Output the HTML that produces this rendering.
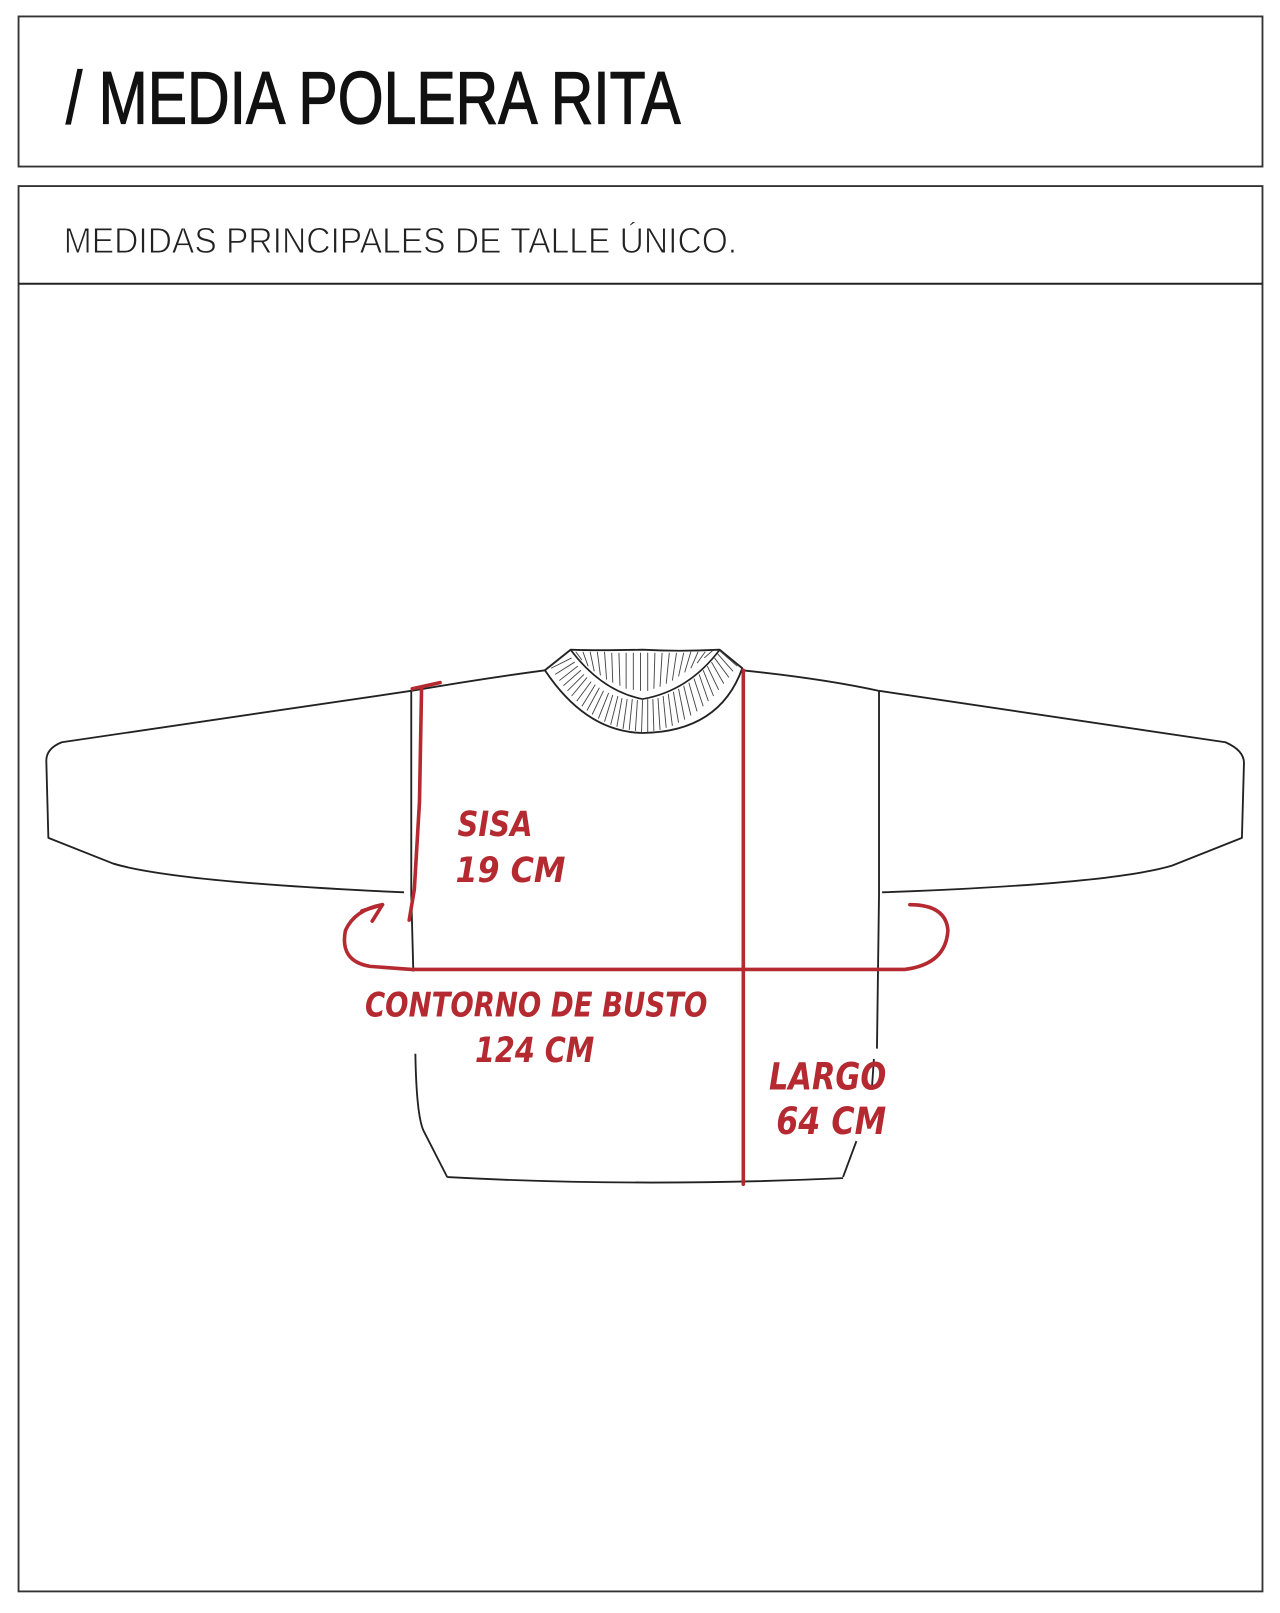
<!DOCTYPE html>
<html><head><meta charset="utf-8"><style>
html,body{margin:0;padding:0;background:#fff;}
svg{display:block}
</style></head><body>
<svg width="1280" height="1613" viewBox="0 0 1245 1569" xmlns="http://www.w3.org/2000/svg">
<rect x="0" y="0" width="1245" height="1569" fill="#fff"/>
<rect x="18" y="16" width="1210" height="146" fill="none" stroke="#333" stroke-width="1.8"/>
<rect x="18" y="181" width="1210" height="1367" fill="none" stroke="#333" stroke-width="1.8"/>
<line x1="18" y1="276" x2="1228" y2="276" stroke="#222" stroke-width="2"/>
<text x="64" y="120" font-family="Liberation Sans, sans-serif" font-size="72" fill="#111" stroke="#111" stroke-width="1.2" textLength="598" lengthAdjust="spacingAndGlyphs">/ MEDIA POLERA RITA</text>
<text x="62" y="246" font-family="Liberation Sans, sans-serif" font-size="35" fill="#222" textLength="655" lengthAdjust="spacingAndGlyphs" stroke="#fff" stroke-width="0.9">MEDIDAS  PRINCIPALES  DE  TALLE  ÚNICO.</text>

<g fill="none" stroke="#222" stroke-width="1.8" stroke-linejoin="round">
<path d="M400 672 L60 722 Q45 728 45 740 L47 815 L110 840 Q170 858 393 868"/>
<path d="M855 672 L1192 722 Q1210 730 1210 742 L1208 815 L1140 842 Q1080 860 858 868"/>
<path d="M400 672 Q470 660 530 652"/>
<path d="M722 652 Q800 660 855 672"/>
<path d="M400 672 L400 870 L402 945"/>
<path d="M404 1025 Q405 1085 412 1100 L435 1145"/>
<path d="M855 672 L855 870 L853 1020"/>
<path d="M850 1030 L848 1060"/>
<path d="M833 1110 L820 1145"/>
<path d="M435 1145 Q620 1155 820 1146"/>
<path d="M530 652 Q570 712 625 713 Q700 712 722 650 L700 632 Q660 634 625 632 Q580 633 555 632 Z" fill="#fff"/>
</g>
<g stroke="#444" stroke-width="0.9" fill="none">
<path d="M536 650 L556 640 M540 656 L559 644 M544 662 L562 648 M548 667 L565 652 M552 672 L568 656 M556 677 L571 659 M561 682 L575 663 M566 687 L579 666 M571 691 L583 669 M576 695 L587 672 M582 699 L592 674 M588 702 L596 676 M594 705 L601 677 M600 707 L605 679 M606 709 L610 680 M612 710 L615 680 M618 711 L620 681 M624 712 L625 681 M630 712 L630 680 M636 711 L635 680 M642 710 L640 679 M648 708 L645 677 M654 706 L650 675 M660 703 L655 673 M666 700 L660 670 M672 696 L665 667 M678 692 L670 664 M684 687 L675 660 M689 682 L680 656 M694 677 L684 652 M699 671 L688 648 M704 665 L692 644 M709 659 L695 640 M713 653 L698 636 M717 648 L700 633"/>
<path d="M560 634 L566 642 M567 634 L572 648 M574 634 L578 653 M581 634 L584 657 M588 634 L590 661 M595 635 L596 664 M602 635 L603 667 M609 635 L609 670 M616 635 L616 671 M623 635 L623 672 M630 635 L630 672 M637 635 L636 670 M644 635 L642 668 M651 635 L648 665 M658 635 L654 662 M665 635 L660 658 M672 634 L666 654 M679 634 L672 650 M686 634 L678 645 M693 633 L685 640"/>
<path d="M555 632 Q585 672 625 680 Q670 672 700 632" stroke="#222" stroke-width="1.6"/>
</g>

<g fill="none" stroke="#b42a30" stroke-width="3.5" stroke-linecap="round">
<path d="M428 664 L401 670"/>
<path d="M410 670 L408 780 L403 865 L398 895"/>
<path d="M723 652 L723 1152"/>
<path d="M372 880 Q345 885 336 905 Q330 935 360 940 L400 943 L880 943 Q920 938 922 905 Q920 880 885 880"/>
<path d="M372 880 L352 886 M372 880 L362 896"/>
</g>
<g fill="#b42a30" font-family="DejaVu Sans, sans-serif" font-weight="bold" font-style="italic">
<text x="445" y="813" font-size="34" textLength="73" lengthAdjust="spacingAndGlyphs">SISA</text>
<text x="443" y="858" font-size="34" textLength="107" lengthAdjust="spacingAndGlyphs">19 CM</text>
<text x="355" y="989" font-size="33" textLength="333" lengthAdjust="spacingAndGlyphs">CONTORNO DE BUSTO</text>
<text x="462" y="1033" font-size="34" textLength="116" lengthAdjust="spacingAndGlyphs">124 CM</text>
<text x="748" y="1060" font-size="36" textLength="114" lengthAdjust="spacingAndGlyphs">LARGO</text>
<text x="755" y="1103" font-size="36" textLength="107" lengthAdjust="spacingAndGlyphs">64 CM</text>
</g>
</svg>
</body></html>
